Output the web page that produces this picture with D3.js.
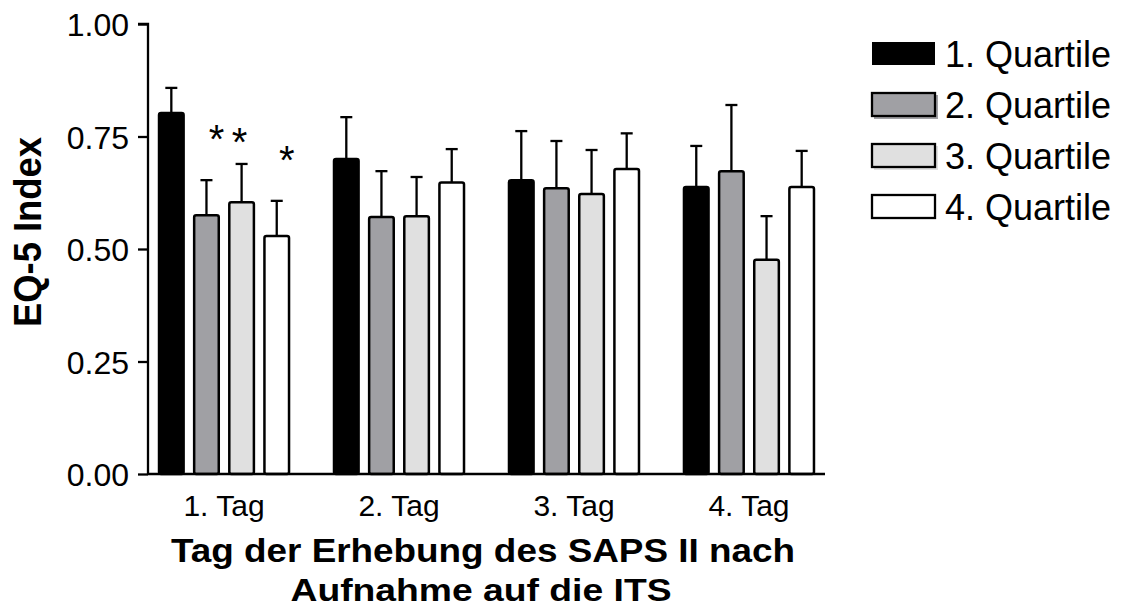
<!DOCTYPE html>
<html>
<head>
<meta charset="utf-8">
<script src="https://cdn.jsdelivr.net/npm/d3@7"></script>
<style>
  body { margin: 0; background: #fff; }
  svg { display: block; font-family: "Liberation Sans", Arial, sans-serif; }
</style>
</head>
<body>
<svg id="chart" width="1122" height="609"></svg>
<script>
const days = ['1. Tag', '2. Tag', '3. Tag', '4. Tag'];
const quartiles = ['1. Quartile', '2. Quartile', '3. Quartile', '4. Quartile'];
// mean EQ-5 index per day, one array per quartile
const q1 = [0.802, 0.700, 0.653, 0.638];
const q2 = [0.575, 0.571, 0.635, 0.673];
const q3 = [0.604, 0.573, 0.622, 0.476];
const q4 = [0.529, 0.648, 0.678, 0.638];
// upper end of error bar
const q1Err = [0.858, 0.793, 0.762, 0.729];
const q2Err = [0.653, 0.673, 0.740, 0.820];
const q3Err = [0.689, 0.660, 0.720, 0.573];
const q4Err = [0.607, 0.722, 0.757, 0.718];
const yTicks = [0, 0.25, 0.5, 0.75, 1];
// significance stars: day, quartile, height
const stars = [
  { day: '1. Tag', q: '2. Quartile', at: 0.760 },
  { day: '1. Tag', q: '3. Quartile', at: 0.753 },
  { day: '1. Tag', q: '4. Quartile', at: 0.713 }
];

const fills = ['#000000', '#a0a0a4', '#e0e0e0', '#ffffff'];
const means = [q1, q2, q3, q4];
const errs = [q1Err, q2Err, q3Err, q4Err];

let data = [];
days.forEach((d, i) => {
  quartiles.forEach((q, j) => {
    data.push({ day: d, q: q, value: means[j][i], err: errs[j][i], fill: fills[j] });
  });
});

const svg = d3.select('#chart');

const x0 = d3.scaleBand().domain(days).range([148, 825])
  .paddingInner(0.257).paddingOuter(0.063);
const x1 = d3.scaleBand().domain(quartiles).range([0, x0.bandwidth()])
  .paddingInner(0.3);
const y = d3.scaleLinear().domain([0, 1]).range([474, 24]);

// bars
svg.append('g').selectAll('rect')
  .data(data)
  .join('rect')
  .attr('x', d => x0(d.day) + x1(d.q))
  .attr('y', d => y(d.value))
  .attr('width', x1.bandwidth())
  .attr('height', d => y(0) - y(d.value))
  .attr('rx', 2)
  .attr('fill', d => d.fill)
  .attr('stroke', '#000')
  .attr('stroke-width', 2.5);

// error bars (upper only)
const eb = svg.append('g').attr('stroke', '#000').attr('stroke-width', 2.3);
data.forEach(d => {
  const cx = x0(d.day) + x1(d.q) + x1.bandwidth() / 2;
  eb.append('line').attr('x1', cx).attr('x2', cx).attr('y1', y(d.value)).attr('y2', y(d.err));
  eb.append('line').attr('x1', cx - 6).attr('x2', cx + 6).attr('y1', y(d.err)).attr('y2', y(d.err));
});

// stars
svg.append('g').selectAll('text')
  .data(stars)
  .join('text')
  .attr('x', d => x0(d.day) + x1(d.q) + x1.bandwidth() / 2 + (d.q === '3. Quartile' ? -2 : 10))
  .attr('y', d => y(d.at) + 21)
  .attr('text-anchor', 'middle')
  .attr('font-size', 40)
  .text('*');

// y axis
const yAxis = svg.append('g')
  .attr('transform', 'translate(148,0)')
  .call(d3.axisLeft(y).tickValues(yTicks).tickFormat(d3.format('.2f')).tickSize(10).tickPadding(9));
yAxis.selectAll('path, line').attr('stroke', '#000').attr('stroke-width', 2.3);
yAxis.select('.domain').attr('d', `M-10,${y(1)}H0V${y(0)}`);
yAxis.selectAll('text').attr('font-size', 32).attr('fill', '#000').attr('dy', '0.36em')
  .attr('font-family', '"Liberation Sans", Arial, sans-serif');

// x axis
const xAxis = svg.append('g')
  .attr('transform', `translate(0,${y(0)})`)
  .call(d3.axisBottom(x0).tickSize(0).tickPadding(21));
xAxis.select('.domain').attr('stroke', '#000').attr('stroke-width', 2.3)
  .attr('d', `M148,0H825`);
xAxis.selectAll('text').attr('font-size', 30).attr('fill', '#000')
  .attr('font-family', '"Liberation Sans", Arial, sans-serif');

// axis titles
svg.append('text')
  .attr('transform', 'translate(41,232) rotate(-90)')
  .attr('text-anchor', 'middle')
  .attr('font-size', 39)
  .attr('font-weight', 'bold')
  .attr('textLength', 190).attr('lengthAdjust', 'spacingAndGlyphs')
  .text('EQ-5 Index');

svg.append('text')
  .attr('x', 483).attr('y', 562)
  .attr('text-anchor', 'middle')
  .attr('font-size', 33).attr('font-weight', 'bold')
  .attr('textLength', 624).attr('lengthAdjust', 'spacingAndGlyphs')
  .text('Tag der Erhebung des SAPS II nach');
svg.append('text')
  .attr('x', 481).attr('y', 601)
  .attr('text-anchor', 'middle')
  .attr('font-size', 32).attr('font-weight', 'bold')
  .attr('textLength', 381).attr('lengthAdjust', 'spacingAndGlyphs')
  .text('Aufnahme auf die ITS');

// legend
const legend = svg.append('g').attr('transform', 'translate(872,42)');
quartiles.forEach((q, i) => {
  const row = legend.append('g').attr('transform', `translate(0,${i * 51})`);
  if (i === 1 || i === 2) {
    row.append('rect').attr('x', 2).attr('y', 2).attr('width', 64).attr('height', 24)
      .attr('fill', fills[i]);
  }
  row.append('rect').attr('x', 0).attr('y', 0).attr('width', 63).attr('height', 23)
    .attr('fill', fills[i]).attr('stroke', '#000').attr('stroke-width', i === 0 ? 0 : 2.3);
  row.append('text').attr('x', 73).attr('y', 25)
    .attr('font-size', 36).text(q);
});
</script>
</body>
</html>
